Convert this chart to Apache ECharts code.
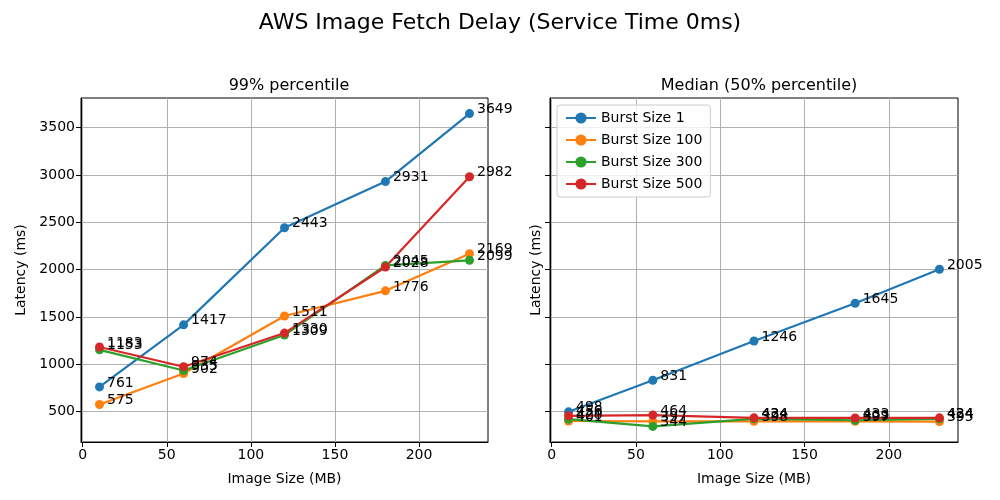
<!DOCTYPE html>
<html>
<head>
<meta charset="utf-8">
<script src="https://cdn.jsdelivr.net/npm/echarts@6/dist/echarts.min.js"></script>
<style>html,body{margin:0;padding:0;background:#fff}#c{width:1000px;height:500px}</style>
</head>
<body>
<div id="c"></div>
<script>
const sizes = [10, 60, 120, 180, 230];
const seriesNames = ['Burst Size 1', 'Burst Size 100', 'Burst Size 300', 'Burst Size 500'];
const p99_b1 = [761, 1417, 2443, 2931, 3649];
const p99_b100 = [575, 902, 1511, 1776, 2169];
const p99_b300 = [1153, 935, 1309, 2045, 2099];
const p99_b500 = [1183, 974, 1330, 2028, 2982];
const p50_b1 = [498, 831, 1246, 1645, 2005];
const p50_b100 = [401, 397, 398, 397, 395];
const p50_b300 = [420, 344, 424, 409, 424];
const p50_b500 = [456, 464, 434, 433, 434];
const xTicks = [0, 50, 100, 150, 200];
const yTicks = [500, 1000, 1500, 2000, 2500, 3000, 3500];
const colors = ['#1f77b4', '#ff7f0e', '#2ca02c', '#d62728'];

const FONT = 'DejaVu Sans';
const chart = echarts.init(document.getElementById('c'), null, {renderer: 'canvas'});

function pairs(vals) { return sizes.map((s, i) => [s, vals[i]]); }

function mkSeries(name, vals, idx, color) {
  return {
    type: 'line', name: name, xAxisIndex: idx, yAxisIndex: idx,
    data: pairs(vals), symbol: 'circle', symbolSize: 9,
    lineStyle: {width: 2.2, color: color}, itemStyle: {color: color},
    emphasis: {disabled: true}, animation: false,
    label: {show: true, position: 'right', distance: 3, offset: [0, -4],
      fontFamily: FONT, fontSize: 14, color: '#000',
      formatter: p => String(p.value[1])}
  };
}

function xAx(gi) {
  return {
    type: 'value', gridIndex: gi, min: -1, max: 241,
    name: 'Image Size (MB)', nameLocation: 'middle', nameGap: 30,
    nameTextStyle: {fontFamily: FONT, fontSize: 14, color: '#000'},
    axisLine: {show: true, onZero: false, lineStyle: {color: '#000', width: 1}},
    axisTick: {show: true, length: 5, lineStyle: {color: '#000'}, customValues: xTicks},
    axisLabel: {fontFamily: FONT, fontSize: 14, color: '#000', margin: 6, customValues: xTicks,
      formatter: v => String(v)},
    splitLine: {show: true, lineStyle: {color: '#b0b0b0', width: 1}}
  };
}
function yAx(gi, showLabels) {
  return {
    type: 'value', gridIndex: gi, min: 179, max: 3814,
    name: 'Latency (ms)', nameLocation: 'middle', nameGap: showLabels ? 53 : 7,
    nameTextStyle: {fontFamily: FONT, fontSize: 14, color: '#000'},
    axisLine: {show: true, onZero: false, lineStyle: {color: '#000', width: 1}},
    axisTick: {show: true, length: 5, lineStyle: {color: '#000'}, customValues: yTicks},
    axisLabel: {show: showLabels, fontFamily: FONT, fontSize: 14, color: '#000', margin: 6, customValues: yTicks,
      formatter: v => String(v)},
    splitLine: {show: true, lineStyle: {color: '#b0b0b0', width: 1}}
  };
}

const option = {
  backgroundColor: '#fff',
  animation: false,
  title: [
    {text: 'AWS Image Fetch Delay (Service Time 0ms)', left: 'center', top: 7,
      textStyle: {fontFamily: FONT, fontSize: 22, fontWeight: 'normal', color: '#000'}},
    {text: '99% percentile', left: 284, top: 73, textAlign: 'center',
      textStyle: {fontFamily: FONT, fontSize: 16, fontWeight: 'normal', color: '#000'}},
    {text: 'Median (50% percentile)', left: 754, top: 73, textAlign: 'center',
      textStyle: {fontFamily: FONT, fontSize: 16, fontWeight: 'normal', color: '#000'}}
  ],
  legend: {
    data: seriesNames, orient: 'vertical', left: 557, top: 105,
    itemWidth: 30, itemHeight: 14, itemGap: 8,
    padding: [6, 8, 6, 8],
    backgroundColor: 'rgba(255,255,255,0.8)', borderColor: '#cccccc', borderWidth: 1, borderRadius: 3,
    textStyle: {fontFamily: FONT, fontSize: 14, color: '#000'}
  },
  grid: [
    {left: 81, top: 98, width: 407, height: 344, show: true, borderColor: '#000', borderWidth: 1, backgroundColor: 'transparent'},
    {left: 550, top: 98, width: 408, height: 344, show: true, borderColor: '#000', borderWidth: 1, backgroundColor: 'transparent'}
  ],
  xAxis: [xAx(0), xAx(1)],
  yAxis: [yAx(0, true), yAx(1, false)],
  series: [
    mkSeries(seriesNames[0], p99_b1, 0, colors[0]),
    mkSeries(seriesNames[1], p99_b100, 0, colors[1]),
    mkSeries(seriesNames[2], p99_b300, 0, colors[2]),
    mkSeries(seriesNames[3], p99_b500, 0, colors[3]),
    mkSeries(seriesNames[0], p50_b1, 1, colors[0]),
    mkSeries(seriesNames[1], p50_b100, 1, colors[1]),
    mkSeries(seriesNames[2], p50_b300, 1, colors[2]),
    mkSeries(seriesNames[3], p50_b500, 1, colors[3])
  ]
};
chart.setOption(option);
</script>
</body>
</html>
